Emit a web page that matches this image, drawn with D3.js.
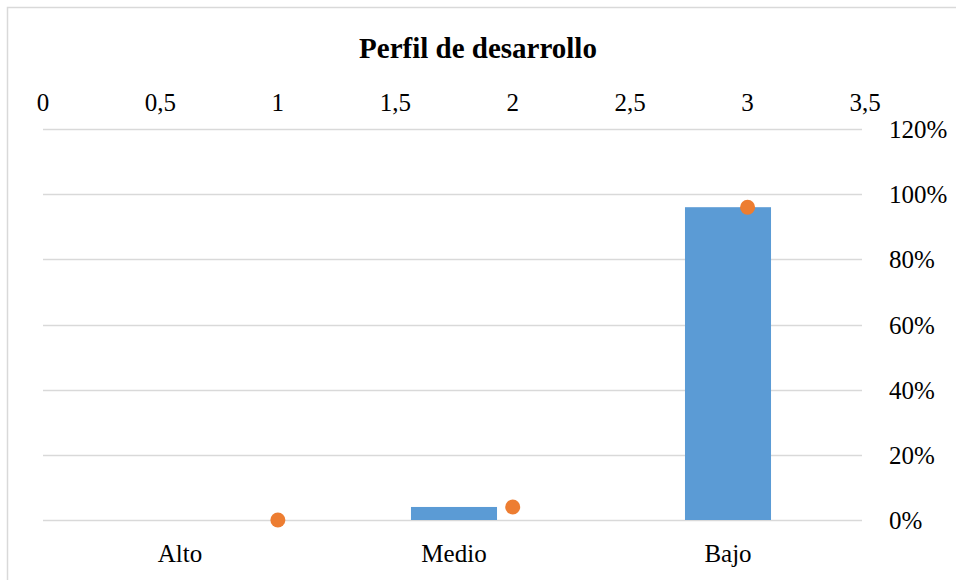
<!DOCTYPE html>
<html>
<head>
<meta charset="utf-8">
<script src="https://cdn.jsdelivr.net/npm/d3@7.9.0/dist/d3.min.js"></script>
<style>
  body { margin: 0; background: #fff; }
  text { font-family: "Liberation Serif", "Times New Roman", serif; fill: #000; }
</style>
</head>
<body>
<svg id="chart" width="956" height="580"></svg>
<script>
// data
const categories = ['Alto', 'Medio', 'Bajo'];
const barValues = [0, 0.04, 0.96];
const dotX = [1, 2, 3];
const dotY = [0, 0.04, 0.96];
const topTicks = [0, 0.5, 1, 1.5, 2, 2.5, 3, 3.5];
const rightTicks = [0, 0.2, 0.4, 0.6, 0.8, 1.0, 1.2];

const svg = d3.select('#chart');
const plotLeft = 43, plotRight = 865, plotTop = 129, plotBottom = 520;

// frame
svg.append('path')
  .attr('d', 'M7.5,580 V7.5 H956')
  .attr('fill', 'none')
  .attr('stroke', '#d9d9d9')
  .attr('stroke-width', 1.5);

// scales
let xBand = d3.scaleBand().domain(categories).range([plotLeft, plotRight]);
let xTop = d3.scaleLinear().domain([0, 3.5]).range([plotLeft, plotRight]);
let y = d3.scaleLinear().domain([0, 1.2]).range([plotBottom, plotTop]);

// gridlines
svg.append('g')
  .selectAll('line')
  .data(rightTicks)
  .join('line')
  .attr('x1', plotLeft)
  .attr('x2', 862)
  .attr('y1', (d) => Math.round(y(d)) + 0.5)
  .attr('y2', (d) => Math.round(y(d)) + 0.5)
  .attr('stroke', '#d9d9d9')
  .attr('stroke-width', 1.5);

// bars
const barW = xBand.bandwidth() * 0.314;
svg.append('g')
  .selectAll('rect')
  .data(barValues)
  .join('rect')
  .attr('x', (d, i) => xBand(categories[i]) + xBand.bandwidth() / 2 - barW / 2)
  .attr('width', barW)
  .attr('y', (d) => y(d))
  .attr('height', (d) => y(0) - y(d))
  .attr('fill', '#5b9bd5');

// dots
svg.append('g')
  .selectAll('circle')
  .data(dotX)
  .join('circle')
  .attr('cx', (d) => xTop(d))
  .attr('cy', (d, i) => y(dotY[i]))
  .attr('r', 7.5)
  .attr('fill', '#ed7d31');

// title
svg.append('text')
  .attr('x', 478)
  .attr('y', 58)
  .attr('text-anchor', 'middle')
  .attr('font-size', 29)
  .attr('font-weight', 'bold')
  .text('Perfil de desarrollo');

// top axis labels
svg.append('g')
  .selectAll('text')
  .data(topTicks)
  .join('text')
  .attr('x', (d) => xTop(d))
  .attr('y', 111)
  .attr('text-anchor', 'middle')
  .attr('font-size', 25)
  .text((d) => String(d).replace('.', ','));

// right axis labels
svg.append('g')
  .selectAll('text')
  .data(rightTicks)
  .join('text')
  .attr('x', 889)
  .attr('y', (d) => y(d) + 9)
  .attr('font-size', 25)
  .text((d) => Math.round(d * 100) + '%');

// category labels
svg.append('g')
  .selectAll('text')
  .data(categories)
  .join('text')
  .attr('x', (d) => xBand(d) + xBand.bandwidth() / 2)
  .attr('y', 562)
  .attr('text-anchor', 'middle')
  .attr('font-size', 25)
  .text((d) => d);
</script>
</body>
</html>
